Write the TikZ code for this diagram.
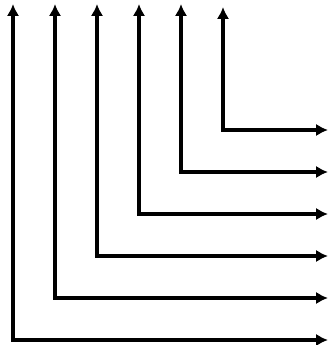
\documentclass[tikz,border=0pt]{standalone}
\usetikzlibrary{arrows.meta}
\begin{document}
\begin{tikzpicture}[x=1pt,y=-1pt,
  elbow/.style={line width=3.2pt, {Latex[length=12pt,width=12.5pt]}-{Latex[length=12pt,width=12.5pt]}}]
\useasboundingbox (0,0) rectangle (328,345);
\foreach \i/\x/\y/\t in {1/13/340/4, 2/55/298/4, 3/97/256/4, 4/139/214/4, 5/181/172/4, 6/223/130/7}{
  \coordinate (top\i) at (\x,\t);
  \coordinate (corner\i) at (\x,\y);
  \coordinate (end\i) at (328,\y);
  \draw[elbow] (top\i) -- (corner\i) -- (end\i);
}
\end{tikzpicture}
\end{document}
